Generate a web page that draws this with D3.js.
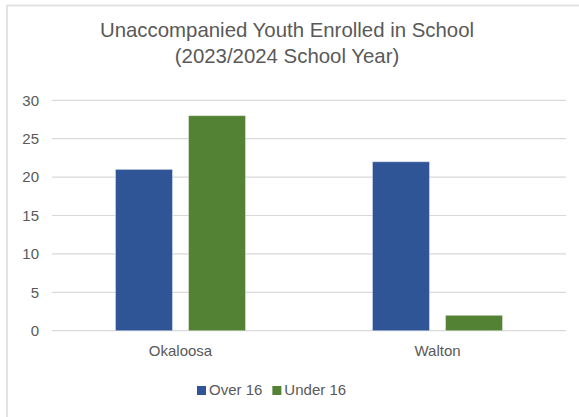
<!DOCTYPE html>
<html>
<head>
<meta charset="utf-8">
<script src="https://cdn.jsdelivr.net/npm/d3@7"></script>
<style>
  html, body { margin: 0; padding: 0; background: #fff; }
  svg { display: block; font-family: "Liberation Sans", Arial, Helvetica, sans-serif; }
</style>
</head>
<body>
<svg id="chart" width="579" height="417"></svg>
<script>
// Chart data
const counties = ["Okaloosa", "Walton"];
const seriesNames = ["Over 16", "Under 16"];
const over16 = [21, 22];
const under16 = [28, 2];
const yTicks = [0, 5, 10, 15, 20, 25, 30];
const titleLines = ["Unaccompanied Youth Enrolled in School", "(2023/2024 School Year)"];
const seriesColors = ["#2F5597", "#548235"];

const svg = d3.select("#chart");
const W = 579, H = 417;
const margin = { left: 52, right: 13, top: 100.3, bottom: 86.3 };
const plotW = W - margin.left - margin.right;
const plotH = H - margin.top - margin.bottom;
const textColor = "#595959";
const labelSize = 15;

// Outer frame (left and top edges visible)
svg.append("path")
  .attr("d", `M7,${H} V5.5 H${W}`)
  .attr("fill", "none")
  .attr("stroke", "#e2e2e2")
  .attr("stroke-width", 2);

// Title
svg.append("g").selectAll("text")
  .data(titleLines)
  .join("text")
  .attr("x", 287)
  .attr("y", (d, i) => 37 + i * 26)
  .attr("text-anchor", "middle")
  .attr("font-size", 20.4)
  .attr("fill", textColor)
  .text(d => d);

const g = svg.append("g").attr("transform", `translate(${margin.left},${margin.top})`);

const y = d3.scaleLinear().domain([0, 30]).range([plotH, 0]);
const x0 = d3.scaleBand().domain(counties).range([0, plotW]).padding(0);
const groupW = 130;
const x1 = d3.scaleBand().domain(seriesNames).range([0, groupW]).paddingInner(0.22).paddingOuter(0);

// Gridlines
g.append("g").selectAll("line")
  .data(yTicks)
  .join("line")
  .attr("x1", 0).attr("x2", plotW)
  .attr("y1", d => y(d)).attr("y2", d => y(d))
  .attr("stroke", "#d9d9d9")
  .attr("stroke-width", 1.2);

// Y axis labels
const yAxis = d3.axisLeft(y).tickValues(yTicks).tickSize(0).tickPadding(13);
g.append("g").call(yAxis)
  .call(a => a.select(".domain").remove())
  .call(a => a.selectAll("text")
    .attr("font-size", labelSize)
    .attr("fill", textColor)
    .attr("font-family", "Liberation Sans, Arial, sans-serif"));

// Bars
const rows = counties.map((c, i) => ({ county: c, values: [over16[i], under16[i]] }));
const groups = g.append("g").selectAll("g")
  .data(rows)
  .join("g")
  .attr("transform", d => `translate(${x0(d.county) + (x0.bandwidth() - groupW) / 2},0)`);

groups.selectAll("rect")
  .data(d => d.values.map((v, j) => ({ name: seriesNames[j], value: v, color: seriesColors[j] })))
  .join("rect")
  .attr("x", d => x1(d.name))
  .attr("width", x1.bandwidth())
  .attr("y", d => y(d.value))
  .attr("height", d => plotH - y(d.value))
  .attr("fill", d => d.color)
  .attr("stroke", "#ffffff")
  .attr("stroke-opacity", 0.35)
  .attr("stroke-width", 1);

// X axis labels
const xAxis = d3.axisBottom(x0).tickSize(0).tickPadding(14.5);
g.append("g").attr("transform", `translate(0,${plotH})`).call(xAxis)
  .call(a => a.select(".domain").remove())
  .call(a => a.selectAll("text")
    .attr("font-size", labelSize)
    .attr("fill", textColor)
    .attr("font-family", "Liberation Sans, Arial, sans-serif"));

// Legend
const legendItems = seriesNames.map((n, i) => ({ name: n, color: seriesColors[i] }));
const legend = svg.append("g").attr("transform", "translate(197,386)");
let lx = 0;
legendItems.forEach((it, i) => {
  const item = legend.append("g").attr("transform", `translate(${lx},0)`);
  item.append("rect").attr("width", 9).attr("height", 9).attr("fill", it.color);
  const t = item.append("text")
    .attr("x", 12).attr("y", 8.8)
    .attr("font-size", labelSize)
    .attr("fill", textColor)
    .text(it.name);
  lx += 12 + t.node().getComputedTextLength() + 10;
});
</script>
</body>
</html>
